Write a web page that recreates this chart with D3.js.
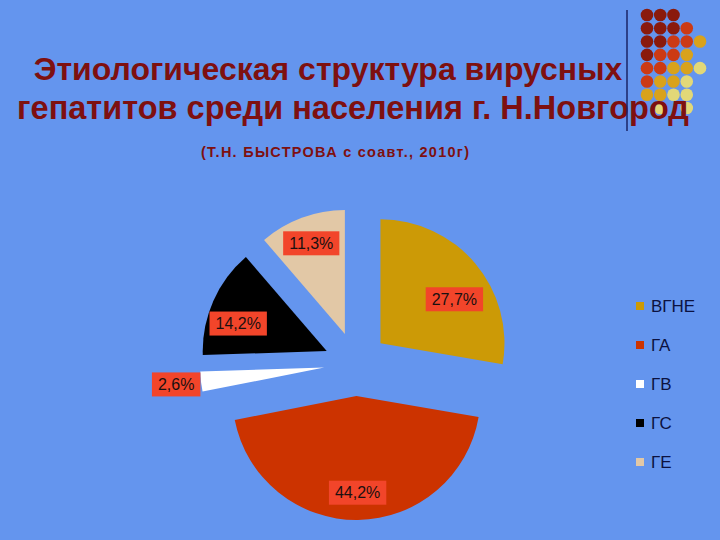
<!DOCTYPE html>
<html><head><meta charset="utf-8">
<script src="https://cdn.jsdelivr.net/npm/d3@7"></script>
<style>html,body{margin:0;padding:0;background:#6495ee;}svg{display:block;}</style>
</head><body>
<script>
const categories = ["ВГНЕ", "ГА", "ГВ", "ГС", "ГЕ"];
const values = [27.7, 44.2, 2.6, 14.2, 11.3];
const colors = ["#cc9a06", "#cc3300", "#ffffff", "#000000", "#e2c8a6"];
const titleLines = ["Этиологическая структура вирусных", "гепатитов среди населения г. Н.Новгород"];
const subtitle = "(Т.Н. БЫСТРОВА с соавт., 2010г)";
// decorative dot grid: rows of colour codes (0 dark red,1 orange red,2 gold,3 pale yellow, -1 none)
const dotRows = [
  [0,0,0,-1,-1],
  [0,0,0,1,-1],
  [0,0,1,1,2],
  [0,1,1,2,-1],
  [1,1,2,2,3],
  [1,2,2,3,-1],
  [2,2,3,3,-1],
  [-1,3,-1,3,-1]
];
const dotColors = ["#8a1a0c", "#cc3a14", "#d9a21c", "#e2d878"];

const W = 720, H = 540;
const svg = d3.select("body").append("svg").attr("width", W).attr("height", H);
svg.append("rect").attr("width", W).attr("height", H).attr("fill", "#6495ee");

// decoration dots
const dx = d3.scaleLinear().domain([0, 4]).range([647, 700]);
const dy = d3.scaleLinear().domain([0, 7]).range([15, 108]);
dotRows.forEach((row, i) => row.forEach((c, j) => {
  if (c < 0) return;
  svg.append("circle").attr("cx", dx(j)).attr("cy", dy(i)).attr("r", 6.3).attr("fill", dotColors[c]);
}));

// title
svg.selectAll("text.title").data(titleLines).enter().append("text")
  .attr("class", "title")
  .attr("x", (d, i) => i === 0 ? 328 : 353)
  .attr("y", (d, i) => 80 + i * 39)
  .attr("text-anchor", "middle")
  .attr("font-family", "Liberation Sans, Arial, sans-serif")
  .attr("font-weight", "bold").attr("font-size", (d, i) => i === 0 ? 32 : 32.5)
  .attr("fill", "#7e1010")
  .text(d => d);
svg.append("line").attr("x1", 627).attr("x2", 627).attr("y1", 10).attr("y2", 131)
  .attr("stroke", "#1a2466").attr("stroke-width", 1.5);
svg.append("text").attr("x", 335).attr("y", 157).attr("text-anchor", "middle")
  .attr("font-family", "Liberation Sans, Arial, sans-serif")
  .attr("font-weight", "bold").attr("font-size", 14.5)
  .attr("textLength", 268).attr("lengthAdjust", "spacing")
  .attr("fill", "#7e1010").text(subtitle);

// pie
const cx = 356, cy = 364, R = 124, explode = 32;
const pie = d3.pie().sort(null).value(d => d)(values);
const arc = d3.arc().innerRadius(0).outerRadius(R);
const g = svg.append("g").attr("transform", `translate(${cx},${cy})`);
const dir = a => [Math.sin(a), -Math.cos(a)];
pie.forEach((p, i) => {
  const mid = (p.startAngle + p.endAngle) / 2;
  const [ux, uy] = dir(mid);
  const ox = ux * explode, oy = uy * explode;
  g.append("path").attr("d", arc(p)).attr("fill", colors[i])
    .attr("transform", `translate(${ox},${oy})`);
});
pie.forEach((p, i) => {
  const mid = (p.startAngle + p.endAngle) / 2;
  const [ux, uy] = dir(mid);
  const share = values[i] / d3.sum(values);
  const lr = share < 0.05 ? R + 25 : R * 0.78;
  const lx = ux * (explode + lr), ly = uy * (explode + lr) * (uy < 0 && Math.abs(ux) > 0.6 ? 0.78 : 1);
  const lg = g.append("g").attr("transform", `translate(${lx},${ly})`);
  const t = lg.append("text").attr("text-anchor", "middle").attr("dy", "0.36em")
    .attr("font-family", "Liberation Sans, Arial, sans-serif").attr("font-size", 16)
    .attr("fill", "#1a1010").text(String(values[i]).replace(".", ",") + "%");
  const bb = t.node().getBBox();
  lg.insert("rect", "text").attr("x", bb.x - 6).attr("y", -12).attr("width", bb.width + 12).attr("height", 24)
    .attr("fill", "#f2452a");
});

// legend
const ly = d3.scalePoint().domain(categories).range([306, 462]);
const leg = svg.append("g");
categories.forEach((c, i) => {
  leg.append("rect").attr("x", 636).attr("y", ly(c) - 4).attr("width", 8).attr("height", 8).attr("fill", colors[i]);
  leg.append("text").attr("x", 651).attr("y", ly(c)).attr("dy", "0.36em")
    .attr("font-family", "Liberation Sans, Arial, sans-serif").attr("font-size", 17)
    .attr("fill", "#0c1240").text(c);
});
</script>
</body></html>
